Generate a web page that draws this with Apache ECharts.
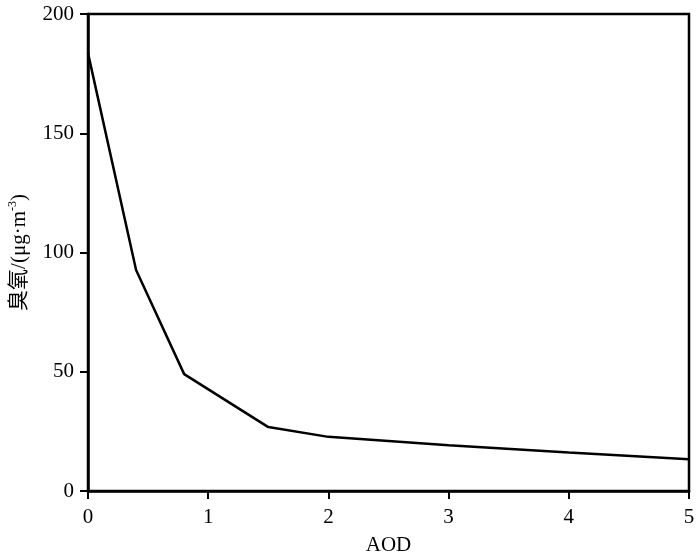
<!DOCTYPE html>
<html>
<head>
<meta charset="utf-8">
<script src="https://cdn.jsdelivr.net/npm/echarts@6/dist/echarts.min.js"></script>
<style>html,body{margin:0;padding:0;background:#fff}#c{width:700px;height:559px}</style>
</head>
<body>
<div id="c"></div>
<script>
var aod = [0, 0.4, 0.8, 1.5, 2, 3, 4, 5];
var ozone = [183.6, 92.7, 49, 26.8, 22.7, 19.2, 16.1, 13.3];
var xTicks = [0, 1, 2, 3, 4, 5];
var yTicks = [0, 50, 100, 150, 200];

var serif = '"Liberation Serif","Times New Roman",serif';
var chart = echarts.init(document.getElementById('c'));
chart.setOption({
  animation: false,
  backgroundColor: '#fff',
  grid: { left: 88, right: 11, top: 14, bottom: 68, show: true, borderColor: '#000', borderWidth: 2.5,
          containLabel: false, outerBoundsMode: 'none' },
  xAxis: {
    type: 'value', min: xTicks[0], max: xTicks[xTicks.length - 1], interval: 1,
    name: 'AOD', nameLocation: 'middle', nameGap: 44,
    nameTextStyle: { fontFamily: serif, fontSize: 21, color: '#000' },
    axisLine: { lineStyle: { color: '#000', width: 2.5 } },
    axisTick: { length: 8, lineStyle: { color: '#000', width: 2 } },
    axisLabel: { fontFamily: serif, fontSize: 21, color: '#000', margin: 16 },
    splitLine: { show: false }
  },
  yAxis: {
    type: 'value', min: yTicks[0], max: yTicks[yTicks.length - 1], interval: 50,
    name: '{a|臭氧/(μg·m}{s|-3}{a|)}', nameLocation: 'middle', nameGap: 57,
    nameTextStyle: {
      rich: {
        a: { fontFamily: '"Liberation Serif","Noto Sans CJK SC",serif', fontSize: 21, color: '#000', lineHeight: 24 },
        s: { fontFamily: serif, fontSize: 12, color: '#000', lineHeight: 12, verticalAlign: 'top' }
      }
    },
    axisLine: { show: true, lineStyle: { color: '#000', width: 2.5 } },
    axisTick: { show: true, length: 8, lineStyle: { color: '#000', width: 2 } },
    axisLabel: { fontFamily: serif, fontSize: 21, color: '#000', margin: 14 },
    splitLine: { show: false }
  },
  series: [{
    type: 'line',
    data: aod.map(function (x, i) { return [x, ozone[i]]; }),
    showSymbol: false,
    lineStyle: { color: '#000', width: 2.5 }
  }]
});
</script>
</body>
</html>
